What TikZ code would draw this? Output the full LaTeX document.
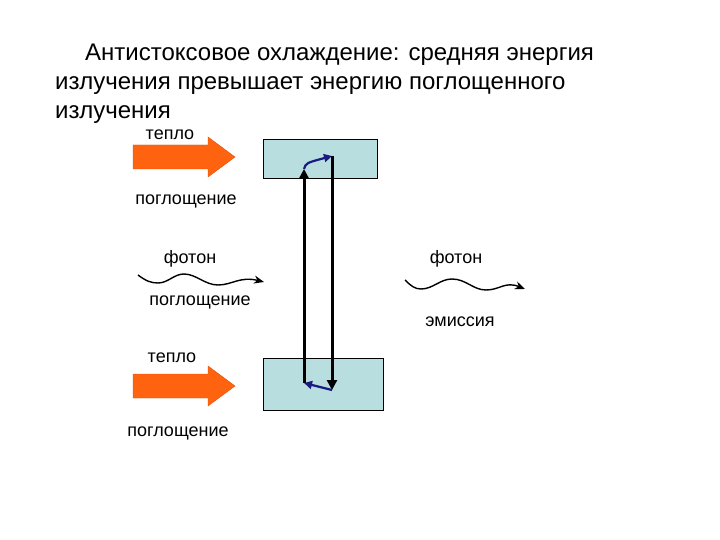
\documentclass[tikz,border=0pt]{standalone}
\usepackage{fontspec}
\setmainfont{Liberation Sans}
\usepackage{tikz}
\usetikzlibrary{arrows.meta}
\definecolor{heatorange}{HTML}{FF6310}
\definecolor{levelblue}{HTML}{B8DEE0}
\definecolor{transblue}{HTML}{1A1A80}

\begin{document}
\begin{tikzpicture}[x=1pt, y=-1pt,
    level/.style={draw=black, fill=levelblue, line width=0.9pt, inner sep=0pt},
    lbl/.style={font=\fontsize{18}{20}\selectfont, inner sep=0pt},
    jump/.style={line width=3pt, -{Triangle[length=10pt,width=10pt]}},
    relax/.style={draw=transblue, line width=2.2pt, -{Triangle[length=8pt,width=8pt]}},
    wave/.style={line width=1.4pt, -{Stealth[length=10pt,width=8pt]}},
    heat/.style={fill=heatorange, draw=heatorange!85!black, line width=0.4pt}]
  \useasboundingbox (0,0) rectangle (720,540);

  % title
  \node[anchor=north west, align=left, inner sep=0pt,
        font=\fontsize{24}{29}\selectfont] (title) at (55,44)
    {\hspace*{30pt}Антистоксовое охлаждение: средняя энергия\\
     излучения превышает энергию поглощенного\\
     излучения};

  % energy levels
  \node[level, minimum width=114pt, minimum height=39pt] (upper) at (320,158.5) {};
  \node[level, minimum width=120pt, minimum height=52pt] (lower) at (323,384) {};

  % transitions
  \coordinate (pumpbot) at (304,383);
  \coordinate (pumptop) at (304,169);
  \coordinate (emtop) at (332,156);
  \coordinate (embot) at (332,390);
  \draw[jump] (pumpbot) -- (pumptop);
  \draw[relax] (pumptop) .. controls (306,163) .. (emtop);
  \draw[jump] (emtop) -- (embot);
  \draw[relax] (embot) -- (pumpbot);

  % heat
  \path[heat] (133,145) -- (208,145) -- (208,137) -- (235,157) -- (208,177)
    -- (208,169) -- (133,169) -- cycle;
  \path[heat] (133,374) -- (208,374) -- (208,366) -- (235,386) -- (208,406)
    -- (208,398) -- (133,398) -- cycle;

  % photons
  \coordinate (wl0) at (138,275);
  \coordinate (wl1) at (264,282);
  \draw[wave] (wl0) .. controls (146,281) and (151,283) .. (158,283)
    .. controls (168,283) and (174,274) .. (184,274)
    .. controls (196,274) and (205,285) .. (218,285)
    .. controls (232,285) and (240,276) .. (wl1);
  \coordinate (wr0) at (405,280);
  \coordinate (wr1) at (525,289);
  \draw[wave] (wr0) .. controls (411,286) and (415,289) .. (421,289)
    .. controls (433,289) and (440,279) .. (452,279)
    .. controls (466,279) and (473,290) .. (486,290)
    .. controls (500,290) and (505,281) .. (wr1);

  % labels
  \node[lbl] (heattop) at (170,135) {тепло};
  \node[lbl] (abstop) at (186,201) {поглощение};
  \node[lbl] (photonl) at (190,259) {фотон};
  \node[lbl] (absmid) at (200,302) {поглощение};
  \node[lbl] (photonr) at (456,259) {фотон};
  \node[lbl] (emis) at (460,322) {эмиссия};
  \node[lbl] (heatbot) at (172,358) {тепло};
  \node[lbl] (absbot) at (178,433) {поглощение};
\end{tikzpicture}
\end{document}
